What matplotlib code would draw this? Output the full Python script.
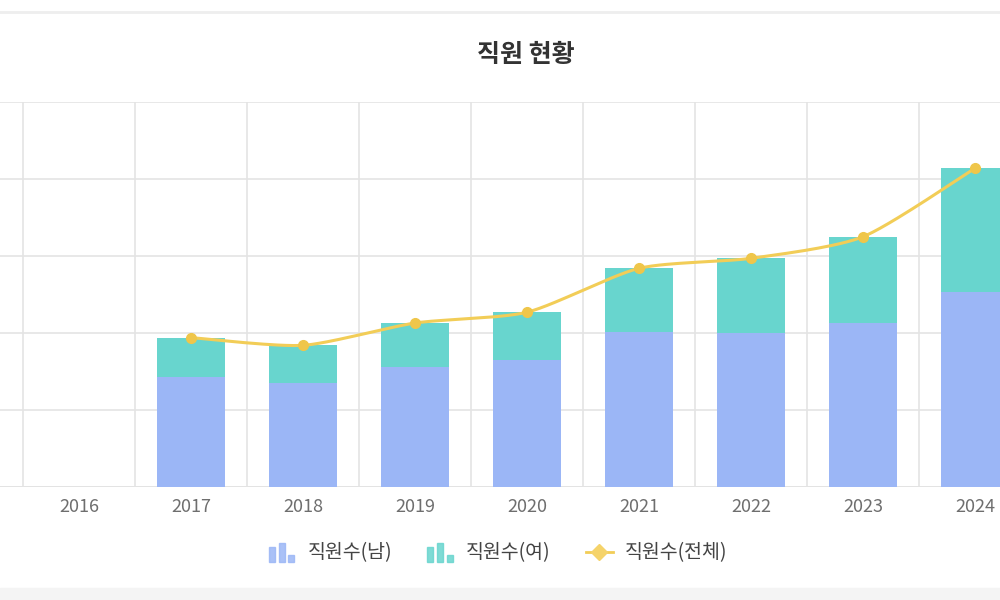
import numpy as np
import matplotlib
matplotlib.use("Agg")
import matplotlib.pyplot as plt
from matplotlib.patches import Rectangle
from matplotlib.lines import Line2D
from matplotlib.legend_handler import HandlerBase

plt.rcParams['font.family'] = ['Noto Sans CJK KR', 'DejaVu Sans']

years = ["2016", "2017", "2018", "2019", "2020", "2021", "2022", "2023", "2024"]
male = [np.nan, 143, 135, 156, 165, 201, 200, 213, 253]
female = [np.nan, 51, 49, 57, 62, 83, 97, 112, 161]
total = [np.nan, 194, 184, 213, 227, 284, 297, 325, 414]

title = "직원 현황"
labels = ["직원수(남)", "직원수(여)", "직원수(전체)"]

c_male = "#9bb6f6"
c_female = "#68d5ce"
c_line = "#f2cd57"

fig = plt.figure(figsize=(10, 6), dpi=100)
fig.patch.set_facecolor("white")
cat_px = 112.0
left_px = 23.0
ax = fig.add_axes([0.0, (600 - 487) / 600, (left_px + 9 * cat_px) / 1000, (487 - 102) / 600])

x = np.arange(len(years))
ax.bar(x, male, width=0.6, color=c_male, zorder=2)
ax.bar(x, female, width=0.6, bottom=male, color=c_female, zorder=2)

# smooth line (Catmull-Rom style through the data points)
tx = np.array([i for i, v in enumerate(total) if not np.isnan(v)], dtype=float)
ty = np.array([v for v in total if not np.isnan(v)], dtype=float)
px, py = [], []
n = len(tx)
for i in range(n - 1):
    p0 = (tx[max(i - 1, 0)], ty[max(i - 1, 0)])
    p1 = (tx[i], ty[i])
    p2 = (tx[i + 1], ty[i + 1])
    p3 = (tx[min(i + 2, n - 1)], ty[min(i + 2, n - 1)])
    t = np.linspace(0, 1, 30)
    k = 0.35
    m1x, m1y = k * (p2[0] - p0[0]), k * (p2[1] - p0[1])
    m2x, m2y = k * (p3[0] - p1[0]), k * (p3[1] - p1[1])
    h00 = 2 * t**3 - 3 * t**2 + 1
    h10 = t**3 - 2 * t**2 + t
    h01 = -2 * t**3 + 3 * t**2
    h11 = t**3 - t**2
    px.extend(h00 * p1[0] + h10 * m1x + h01 * p2[0] + h11 * m2x)
    py.extend(h00 * p1[1] + h10 * m1y + h01 * p2[1] + h11 * m2y)
ax.plot(px, py, color=c_line, lw=2.2, zorder=3)
ax.plot(tx, ty, ls="none", marker="o", ms=7, color="#efc64a", zorder=4)

ax.set_xlim(-0.5 - left_px / cat_px, len(years) - 0.5)
ax.set_ylim(0, 500)
ax.set_yticks(np.arange(0, 501, 100))
ax.set_yticklabels([])
ax.set_xticks(np.arange(-0.5, len(years), 1), minor=True)
ax.set_xticks(x)
ax.set_xticklabels(years, fontsize=13, color="#6e6e6e")
ax.tick_params(axis="both", which="both", length=0)
ax.tick_params(axis="x", pad=8)
ax.grid(True, axis="y", color="#e4e4e4", lw=1.2, zorder=0)
ax.grid(True, axis="x", which="minor", color="#e4e4e4", lw=1.2, zorder=0)
for s in ax.spines.values():
    s.set_visible(False)
ax.axhline(0, color="#dddddd", lw=1.2, zorder=1)

fig.text(0.526, 1 - 55 / 600, title, ha="center", va="center",
         fontsize=18, fontweight="bold", color="#333333")


class BarIcon(HandlerBase):
    def __init__(self, color):
        super().__init__()
        self.color = color

    def create_artists(self, legend, orig_handle, xdescent, ydescent,
                       width, height, fontsize, trans):
        arts = []
        bw = width * 0.22
        hs = [0.8, 1.0, 0.35]
        for j, hh in enumerate(hs):
            r = Rectangle((-xdescent + j * width * 0.36, -ydescent - height * 0.25),
                          bw, height * 1.4 * hh, color=self.color, alpha=0.85,
                          transform=trans)
            arts.append(r)
        return arts


h1 = Rectangle((0, 0), 1, 1, color=c_male)
h2 = Rectangle((0, 0), 1, 1, color=c_female)
h3 = Line2D([0], [0], color=c_line, lw=2, marker="D", ms=8, mfc="#f5d36a", mec="#f5d36a")
leg = fig.legend([h1, h2, h3], labels, loc="center", bbox_to_anchor=(0.498, 1 - 553 / 600),
                 ncol=3, frameon=False, fontsize=14, handlelength=1.4,
                 columnspacing=1.8, handletextpad=0.6,
                 handler_map={h1: BarIcon(c_male), h2: BarIcon(c_female)})
for t in leg.get_texts():
    t.set_color("#444444")

# card decorations
fig.add_artist(Line2D([0.0, 1.0], [1 - 12 / 600, 1 - 12 / 600], color="#eeeeee", lw=2,
                      transform=fig.transFigure))
fig.add_artist(Rectangle((0, 0), 1, 12 / 600, color="#f4f4f4", transform=fig.transFigure,
                         zorder=-1))

fig.savefig("out.png", dpi=100)
